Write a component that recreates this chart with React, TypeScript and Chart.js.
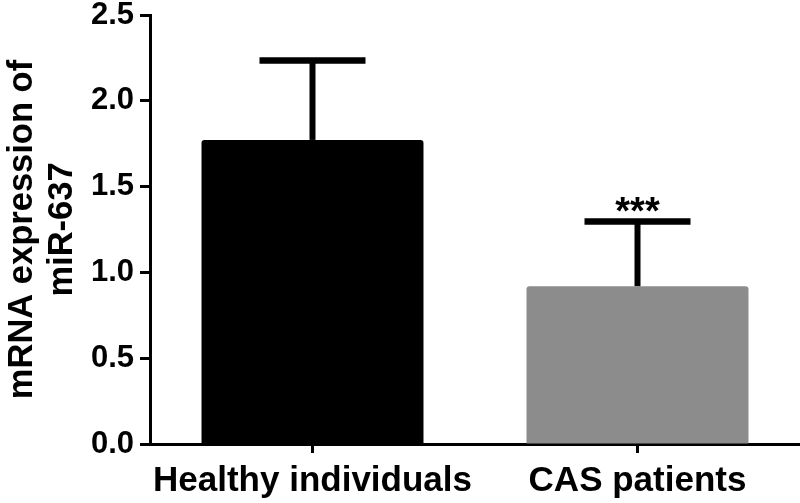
import React, { useEffect, useRef } from "react";
import { Chart, registerables } from "chart.js";

Chart.register(...registerables);

const categories = ["Healthy individuals", "CAS patients"];
const means = [1.772, 0.92];
const errors = [0.463, 0.376];
const significance = ["", "***"];
const barColors = ["#000000", "#8c8c8c"];
const yTicks = [0, 0.5, 1.0, 1.5, 2.0, 2.5];

const FONT = "'Liberation Sans', Arial, sans-serif";

const errorBarPlugin = {
  id: "errorBars",
  afterDatasetsDraw(chart: any) {
    const ctx = chart.ctx;
    const meta = chart.getDatasetMeta(0);
    const yScale = chart.scales.y;
    ctx.save();
    meta.data.forEach((bar: any, i: number) => {
      const x = bar.x;
      const yTop = yScale.getPixelForValue(means[i] + errors[i]);
      const yBase = yScale.getPixelForValue(means[i]);
      ctx.strokeStyle = "#000";
      ctx.lineCap = "butt";
      ctx.lineWidth = 6;
      ctx.beginPath();
      ctx.moveTo(x, yBase);
      ctx.lineTo(x, yTop);
      ctx.stroke();
      ctx.lineWidth = 6.5;
      ctx.beginPath();
      ctx.moveTo(x - 53, yTop);
      ctx.lineTo(x + 53, yTop);
      ctx.stroke();
      if (significance[i]) {
        ctx.fillStyle = "#000";
        ctx.font = `bold 38px ${FONT}`;
        ctx.textAlign = "center";
        ctx.textBaseline = "alphabetic";
        ctx.fillText(significance[i], x, yTop + 2);
      }
    });
    ctx.restore();
  },
};

export default function App() {
  const ref = useRef<HTMLCanvasElement>(null);
  useEffect(() => {
    document.body.style.margin = "0";
    const chart = new Chart(ref.current!, {
      type: "bar",
      data: {
        labels: categories,
        datasets: [
          {
            data: means,
            backgroundColor: barColors,
            borderWidth: 0,
            borderRadius: { topLeft: 3, topRight: 3, bottomLeft: 0, bottomRight: 0 },
            borderSkipped: "bottom",
            barPercentage: 0.683,
            categoryPercentage: 1,
          },
        ],
      },
      options: {
        animation: false,
        responsive: false,
        maintainAspectRatio: false,
        layout: { padding: { top: 15, right: 0, left: 0, bottom: 0 } },
        plugins: { legend: { display: false }, tooltip: { enabled: false } },
        scales: {
          x: {
            offset: true,
            grid: {
              display: true,
              offset: false,
              drawOnChartArea: false,
              drawTicks: true,
              tickLength: 9,
              tickWidth: 3,
              tickColor: "#000",
            },
            border: { display: true, color: "#000", width: 3 },
            ticks: {
              color: "#000",
              padding: 7,
              font: { family: FONT, size: 35, weight: "bold" },
            },
            afterFit(scale: any) {
              scale.height = 59;
              scale.paddingLeft = 0;
              scale.paddingRight = 0;
            },
          },
          y: {
            min: 0,
            max: 2.5,
            afterBuildTicks(scale: any) {
              scale.ticks = yTicks.map((v) => ({ value: v }));
            },
            grid: {
              display: true,
              drawOnChartArea: false,
              drawTicks: true,
              tickLength: 10,
              tickWidth: 3,
              tickColor: "#000",
            },
            border: { display: true, color: "#000", width: 3 },
            ticks: {
              color: "#000",
              padding: 6,
              font: { family: FONT, size: 31, weight: "bold" },
              callback: (v: any) => Number(v).toFixed(1),
            },
            title: {
              display: true,
              text: ["mRNA expression of", "miR-637"],
              color: "#000",
              font: { family: FONT, size: 34.5, weight: "bold", lineHeight: 1.14 },
              padding: { top: 3, bottom: 4 },
            },
            afterFit(scale: any) {
              scale.width = 150;
              scale.paddingTop = 0;
              scale.paddingBottom = 0;
            },
          },
        },
      },
      plugins: [errorBarPlugin],
    });
    return () => chart.destroy();
  }, []);
  return (
    <div style={{ width: 800, height: 503 }}>
      <canvas ref={ref} width={800} height={503} style={{ display: "block" }} />
    </div>
  );
}
